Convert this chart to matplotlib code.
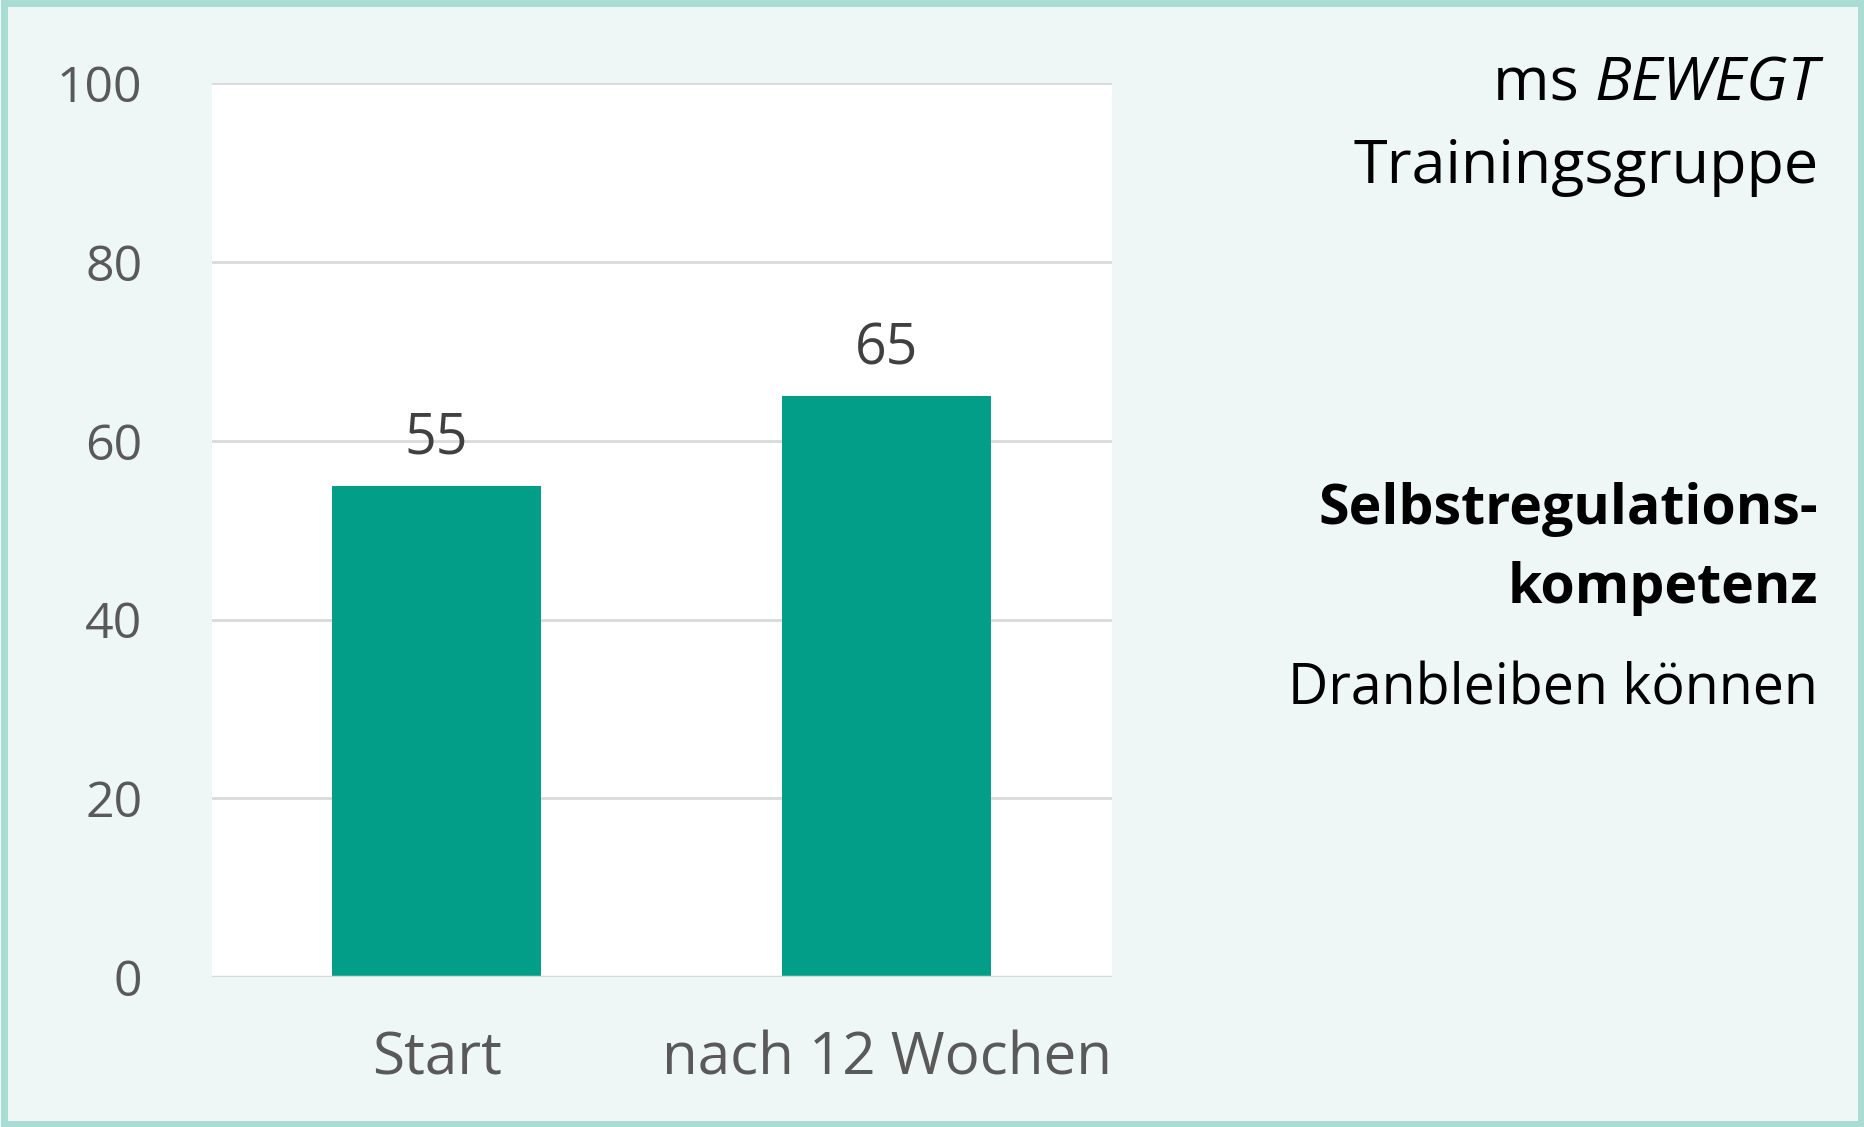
import matplotlib
matplotlib.use("Agg")
import matplotlib.pyplot as plt
from matplotlib.patches import Rectangle

categories = ["Start", "nach 12 Wochen"]
values = [55, 65]
yticks = [0, 20, 40, 60, 80, 100]

fig = plt.figure(figsize=(18.65, 11.27), dpi=100)
fig.patch.set_facecolor("#eef7f5")
fig.patches.append(Rectangle((0.002, 0.003), 0.996, 0.994, transform=fig.transFigure,
                             fill=False, edgecolor="#a9ddd4", linewidth=5))

ax = fig.add_axes([0.1135, 0.133, 0.4825, 0.793])
ax.set_facecolor("white")
x = range(len(categories))
bars = ax.bar(x, values, width=0.465, color="#039e87", zorder=3)
ax.set_xlim(-0.5, 1.5)
ax.set_ylim(0, 100)
ax.set_yticks(yticks)
ax.grid(axis="y", color="#d9d9d9", linewidth=2, zorder=0)
for s in ax.spines.values():
    s.set_visible(False)
ax.axhline(0, color="#d9d9d9", linewidth=2.5, zorder=4)
ax.tick_params(length=0)
ax.set_yticklabels([str(t) for t in yticks], fontsize=36, color="#595959", family="Open Sans")
ax.tick_params(axis="y", pad=50)
ax.set_xticks(list(x))
ax.set_xticklabels(categories, fontsize=42, color="#595959", family="Open Sans")
ax.tick_params(axis="x", pad=38)
for xi, v in zip(x, values):
    ax.text(xi, v + 2, str(v), ha="center", va="bottom", fontsize=40,
            color="#404040", family="Open Sans")

rx = 0.975
fig.text(rx, 0.925, "ms ", ha="right", va="center", fontsize=44, family="Open Sans")
t = fig.text(rx, 0.925, "BEWEGT", ha="right", va="center", fontsize=44,
             family="Open Sans", style="italic")
fig.canvas.draw()
bb = t.get_window_extent()
fig.texts[-2].set_position((bb.x0 / fig.bbox.width, 0.925))
fig.text(rx, 0.852, "Trainingsgruppe", ha="right", va="center", fontsize=44, family="Open Sans")
fig.text(rx, 0.548, "Selbstregulations-", ha="right", va="center", fontsize=40,
         family="Open Sans", weight="bold")
fig.text(rx, 0.478, "kompetenz", ha="right", va="center", fontsize=40,
         family="Open Sans", weight="bold")
fig.text(rx, 0.388, "Dranbleiben können", ha="right", va="center", fontsize=40, family="Open Sans")

fig.savefig("out.png", dpi=100, facecolor=fig.get_facecolor())
